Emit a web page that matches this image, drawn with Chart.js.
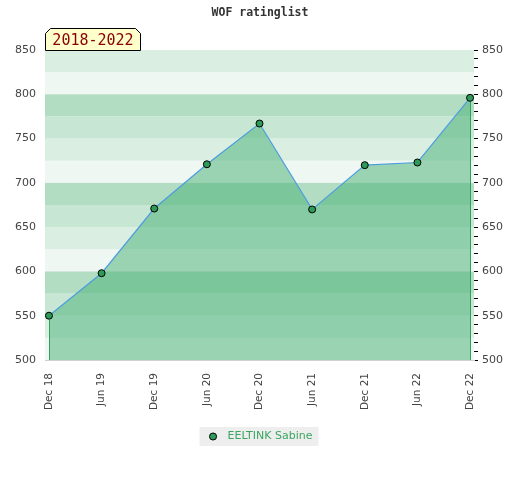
<!DOCTYPE html>
<html>
<head>
<meta charset="utf-8">
<script src="https://cdn.jsdelivr.net/npm/chart.js@4"></script>
<style>
  html, body { margin: 0; padding: 0; background: #fff; }
  #wrap { width: 520px; height: 480px; }
</style>
</head>
<body>
<div id="wrap"><canvas id="ratingChart" width="520" height="480"></canvas></div>
<script>
// data
const periods = ["Dec 18", "Jun 19", "Dec 19", "Jun 20", "Dec 20", "Jun 21", "Dec 21", "Jun 22", "Dec 22"];
const ratings = [550, 598, 671, 721, 767, 670, 720, 723, 796];
const playerName = "EELTINK Sabine";
const chartTitle = "WOF ratinglist";
const rangeLabel = "2018-2022";
const yMin = 500, yMax = 850, yStep = 50;

const bandColors = ["#eef7f1", "#dbeee2", "#c7e6d3", "#b3ddc3"];

const decorations = {
    id: "decorations",
    beforeDraw(chart) {
        const ctx = chart.ctx;
        // title
        ctx.save();
        ctx.fillStyle = "#333";
        ctx.font = "bold 11.5px 'DejaVu Sans Mono', monospace";
        ctx.textAlign = "center";
        ctx.textBaseline = "middle";
        ctx.fillText(chartTitle, 260, 13);

        // legend background
        const hb = chart.legend.legendHitBoxes[0];
        if (hb) {
            ctx.fillStyle = "#eeeeee";
            ctx.fillRect(hb.left - 8, hb.top - 4, hb.width + 14, hb.height + 8);
        }
        ctx.restore();
    },
    beforeDatasetsDraw(chart) {
        const ctx = chart.ctx;
        const area = chart.chartArea;
        const y = chart.scales.y;
        ctx.save();
        for (let v = yMin; v < yMax; v += 25) {
            const top = y.getPixelForValue(v + 25);
            const bot = y.getPixelForValue(v);
            ctx.fillStyle = bandColors[((v - yMin) / 25) % 4];
            ctx.fillRect(area.left, top, area.right - area.left, bot - top);
        }
        ctx.restore();
    },
    afterDatasetsDraw(chart) {
        const ctx = chart.ctx;
        const pts = chart.getDatasetMeta(0).data;
        const bottom = chart.chartArea.bottom;
        ctx.save();
        ctx.strokeStyle = "#2fa05a";
        ctx.lineWidth = 1;
        [pts[0], pts[pts.length - 1]].forEach(p => {
            const x = Math.round(p.x) + 0.5;
            ctx.beginPath();
            ctx.moveTo(x, p.y + 4);
            ctx.lineTo(x, bottom);
            ctx.stroke();
        });
        ctx.restore();
    },
    afterDraw(chart) {
        // period label box, chamfered top corners
        const ctx = chart.ctx;
        const l = 45.5, r = 140.5, t = 28.5, b = 50.5, c = 5;
        ctx.save();
        ctx.beginPath();
        ctx.moveTo(l, b);
        ctx.lineTo(l, t + c);
        ctx.lineTo(l + c, t);
        ctx.lineTo(r - c, t);
        ctx.lineTo(r, t + c);
        ctx.lineTo(r, b);
        ctx.closePath();
        ctx.fillStyle = "#ffffcc";
        ctx.fill();
        ctx.strokeStyle = "#000";
        ctx.lineWidth = 1;
        ctx.stroke();
        ctx.fillStyle = "#8b0000";
        ctx.font = "15px 'DejaVu Sans Mono', monospace";
        ctx.textAlign = "center";
        ctx.textBaseline = "middle";
        ctx.fillText(rangeLabel, (l + r) / 2, 41);
        ctx.restore();
    }
};

const ctx = document.getElementById("ratingChart").getContext("2d");

new Chart(ctx, {
    type: "line",
    data: {
        datasets: [{
            label: playerName,
            data: ratings.map((v, i) => ({ x: i, y: v })),
            borderColor: "#4d9de0",
            borderWidth: 1.2,
            backgroundColor: "rgba(70, 175, 115, 0.5)",
            fill: "start",
            tension: 0,
            pointRadius: 3.5,
            pointBackgroundColor: "#2e9a58",
            pointBorderColor: "#000",
            pointBorderWidth: 1
        }]
    },
    options: {
        responsive: false,
        animation: false,
        layout: { padding: { top: 50, bottom: 28, left: 0, right: 0 } },
        plugins: {
            title: { display: false },
            tooltip: { enabled: false },
            legend: {
                position: "bottom",
                labels: {
                    color: "#3aa660",
                    font: { family: "'DejaVu Sans'", size: 11 },
                    usePointStyle: true,
                    boxHeight: 5,
                    padding: 10,
                    generateLabels: () => [{
                        text: " " + playerName,
                        fillStyle: "#2e9a58",
                        strokeStyle: "#000",
                        lineWidth: 1,
                        pointStyle: "circle",
                        fontColor: "#3aa660",
                        datasetIndex: 0
                    }]
                }
            }
        },
        scales: {
            x: {
                type: "linear",
                min: -0.075,
                max: periods.length - 1 + 0.075,
                afterBuildTicks: s => { s.ticks = periods.map((_, i) => ({ value: i })); },
                afterFit: s => { s.height = 61; },
                ticks: {
                    autoSkip: false,
                    maxRotation: 90,
                    minRotation: 90,
                    padding: 13,
                    color: "#444",
                    font: { family: "'DejaVu Sans'", size: 10.5 },
                    callback: v => periods[v]
                },
                grid: { drawOnChartArea: false, drawTicks: false },
                border: { color: "#d0d0d0" }
            },
            y: {
                position: "left",
                min: yMin,
                max: yMax,
                afterFit: s => { s.width = 45; },
                ticks: {
                    stepSize: yStep,
                    padding: 9,
                    color: "#444",
                    font: { family: "'DejaVu Sans'", size: 11 }
                },
                grid: {
                    drawTicks: false,
                    color: c => (c.tick.value % 100 === 0 ? "#d6d6d6" : "rgba(0,0,0,0)")
                },
                border: { color: "#d0d0d0" }
            },
            y2: {
                position: "right",
                min: yMin,
                max: yMax,
                afterFit: s => { s.width = 46; },
                ticks: {
                    stepSize: 10,
                    autoSkip: false,
                    padding: 4,
                    color: "#444",
                    font: { family: "'DejaVu Sans'", size: 11 },
                    callback: v => (v % yStep === 0 ? v : "")
                },
                grid: {
                    drawOnChartArea: false,
                    tickLength: 4,
                    tickColor: "#000"
                },
                border: { display: false }
            }
        }
    },
    plugins: [decorations]
});
</script>
</body>
</html>
